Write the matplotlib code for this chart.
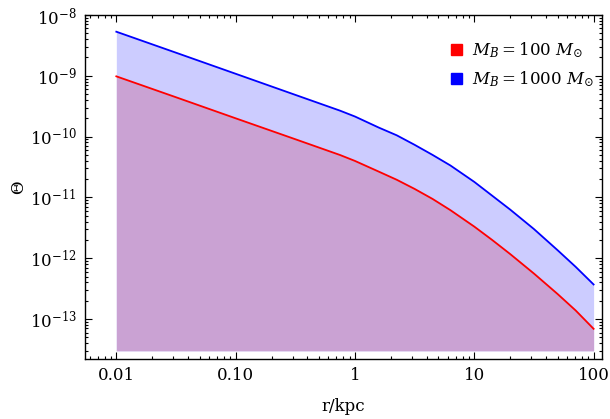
import matplotlib
matplotlib.use("Agg")
import matplotlib.pyplot as plt
from matplotlib.patches import Patch
from matplotlib.ticker import FixedLocator, FixedFormatter, LogLocator, NullFormatter

# galactocentric radius (kpc) and the two Theta profiles
r_kpc = [0.01, 0.0316, 0.1, 0.316, 0.75, 1.0, 1.58, 2.24, 3.16, 4.47,
         6.31, 10.0, 14.1, 20.0, 31.6, 50.0, 70.8, 100.0]
theta_100 = [9.8e-10, 4.44e-10, 2.0e-10, 9.06e-11, 4.98e-11, 3.98e-11,
             2.66e-11, 1.95e-11, 1.38e-11, 9.44e-12, 6.17e-12, 3.31e-12,
             2.0e-12, 1.17e-12, 5.6e-13, 2.57e-13, 1.38e-13, 6.9e-14]
theta_1000 = [5.31e-9, 2.4e-9, 1.08e-9, 4.86e-10, 2.67e-10, 2.14e-10,
              1.41e-10, 1.05e-10, 7.33e-11, 5.0e-11, 3.35e-11, 1.8e-11,
              1.07e-11, 6.3e-12, 3.02e-12, 1.35e-12, 7.2e-13, 3.7e-13]
fill_floor = 3e-14

labels = [r"$M_B = 100\ M_{\odot}$", r"$M_B = 1000\ M_{\odot}$"]
x_ticks = [0.01, 0.1, 1, 10, 100]
x_tick_labels = ["0.01", "0.10", "1", "10", "100"]

plt.rcParams["font.family"] = "DejaVu Serif"
plt.rcParams["mathtext.fontset"] = "dejavuserif"

fig = plt.figure(figsize=(6.1, 4.19), dpi=100)
ax = fig.add_axes([0.1393, 0.1432, 0.8476, 0.821])

ax.fill_between(r_kpc, theta_1000, fill_floor, color="#ccccff", lw=0)
ax.fill_between(r_kpc, theta_100, fill_floor, color="#caa2d3", lw=0)
ax.plot(r_kpc, theta_1000, color="#0000ff", lw=1.3)
ax.plot(r_kpc, theta_100, color="#ff0000", lw=1.3)

ax.set_xscale("log")
ax.set_yscale("log")
ax.set_xlim(0.00546, 117.6)
ax.set_ylim(2.2e-14, 1e-8)

ax.xaxis.set_major_locator(FixedLocator(x_ticks))
ax.xaxis.set_major_formatter(FixedFormatter(x_tick_labels))
ax.xaxis.set_minor_locator(LogLocator(base=10, subs=range(2, 10), numticks=20))
ax.xaxis.set_minor_formatter(NullFormatter())
ax.yaxis.set_major_locator(LogLocator(base=10, numticks=20))
ax.yaxis.set_minor_locator(LogLocator(base=10, subs=range(2, 10), numticks=20))
ax.yaxis.set_minor_formatter(NullFormatter())

ax.tick_params(which="both", direction="in", top=True, right=True,
               labelsize=12, width=0.8)
ax.tick_params(which="major", length=5, pad=6)
ax.tick_params(which="minor", length=2.5)
for s in ax.spines.values():
    s.set_linewidth(1.0)

ax.set_xlabel("r/kpc", fontsize=12, labelpad=10)
ax.set_ylabel("Θ", fontsize=12, labelpad=1.5)

handles = [Patch(color="#ff0000"), Patch(color="#0000ff")]
ax.legend(handles, labels, loc="upper right", frameon=False, fontsize=12,
          handlelength=0.66, handleheight=0.66, handletextpad=0.6,
          labelspacing=0.55, bbox_to_anchor=(1.013, 0.97))

fig.savefig("out.png", dpi=100)
